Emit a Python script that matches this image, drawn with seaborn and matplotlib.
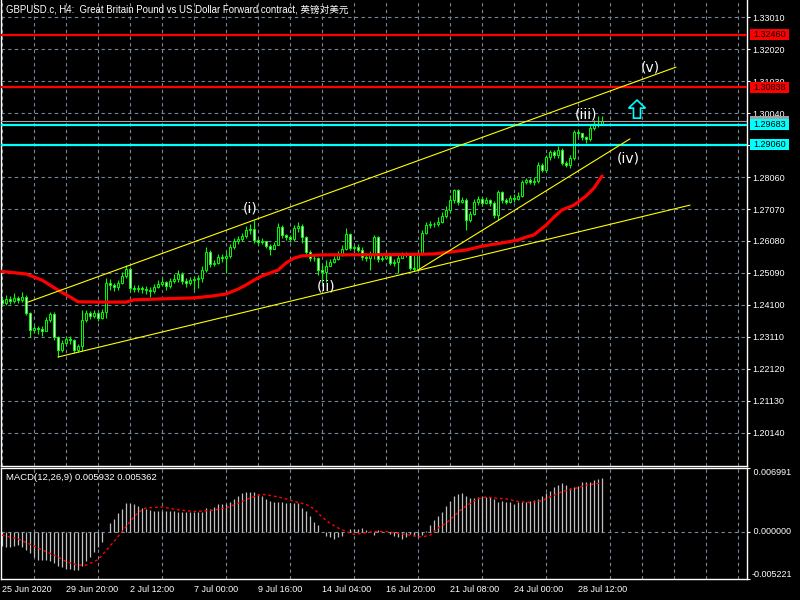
import numpy as np
import pandas as pd
import seaborn as sns
import matplotlib.pyplot as plt
from matplotlib.patches import Rectangle
from matplotlib.transforms import blended_transform_factory

# -----------------------------
# 1. Data (bar 0 = 25 Jun 2020 00:00)
# -----------------------------
first_open = 1.2426
closes = [
    1.2416, 1.2429, 1.2422, 1.2432, 1.2426, 1.2435, 1.2385, 1.2333, 1.2339, 1.2336,
    1.2330, 1.2364, 1.2382, 1.2311, 1.2271, 1.2293, 1.2305, 1.2302, 1.2271, 1.2283,
    1.2364, 1.2385, 1.2376, 1.2385, 1.2370, 1.2388, 1.2478, 1.2472, 1.2466, 1.2478,
    1.2500, 1.2521, 1.2463, 1.2460, 1.2463, 1.2460, 1.2456, 1.2453, 1.2466, 1.2475,
    1.2481, 1.2469, 1.2484, 1.2490, 1.2506, 1.2484, 1.2478, 1.2487, 1.2490, 1.2494,
    1.2518, 1.2574, 1.2537, 1.2540, 1.2559, 1.2555, 1.2562, 1.2589, 1.2608, 1.2614,
    1.2624, 1.2642, 1.2645, 1.2611, 1.2605, 1.2608, 1.2592, 1.2583, 1.2596, 1.2651,
    1.2627, 1.2620, 1.2614, 1.2648, 1.2654, 1.2620, 1.2574, 1.2555, 1.2555, 1.2518,
    1.2512, 1.2531, 1.2543, 1.2552, 1.2568, 1.2583, 1.2630, 1.2586, 1.2589, 1.2580,
    1.2559, 1.2555, 1.2568, 1.2620, 1.2552, 1.2555, 1.2562, 1.2540, 1.2543, 1.2555,
    1.2568, 1.2565, 1.2525, 1.2521, 1.2571, 1.2633, 1.2658, 1.2661, 1.2661, 1.2667,
    1.2685, 1.2704, 1.2735, 1.2766, 1.2729, 1.2735, 1.2673, 1.2692, 1.2729, 1.2738,
    1.2726, 1.2735, 1.2726, 1.2688, 1.2760, 1.2735, 1.2729, 1.2741, 1.2738, 1.2747,
    1.2791, 1.2797, 1.2791, 1.2794, 1.2843, 1.2828, 1.2868, 1.2883, 1.2874, 1.2890,
    1.2849, 1.2843, 1.2865, 1.2945, 1.2942, 1.2930, 1.2924, 1.2957, 1.2969, 1.2970,
    1.2978,
]
highs = [
    1.2435, 1.2441, 1.2438, 1.2447, 1.2438, 1.2450, 1.2441, 1.2388, 1.2348, 1.2345,
    1.2345, 1.2373, 1.2388, 1.2388, 1.2314, 1.2302, 1.2314, 1.2314, 1.2305, 1.2289,
    1.2395, 1.2395, 1.2391, 1.2395, 1.2388, 1.2398, 1.2494, 1.2490, 1.2478, 1.2487,
    1.2512, 1.2534, 1.2528, 1.2472, 1.2472, 1.2469, 1.2469, 1.2466, 1.2475, 1.2487,
    1.2494, 1.2484, 1.2494, 1.2506, 1.2518, 1.2512, 1.2494, 1.2497, 1.2500, 1.2503,
    1.2531, 1.2589, 1.2580, 1.2549, 1.2568, 1.2568, 1.2574, 1.2599, 1.2617, 1.2624,
    1.2633, 1.2654, 1.2661, 1.2673, 1.2617, 1.2617, 1.2608, 1.2599, 1.2605, 1.2664,
    1.2658, 1.2630, 1.2627, 1.2658, 1.2667, 1.2661, 1.2624, 1.2580, 1.2565, 1.2559,
    1.2537, 1.2549, 1.2552, 1.2562, 1.2577, 1.2596, 1.2648, 1.2633, 1.2596, 1.2599,
    1.2589, 1.2565, 1.2577, 1.2627, 1.2624, 1.2565, 1.2568, 1.2565, 1.2552, 1.2565,
    1.2574, 1.2574, 1.2571, 1.2568, 1.2577, 1.2642, 1.2667, 1.2670, 1.2667, 1.2682,
    1.2698, 1.2716, 1.2750, 1.2769, 1.2769, 1.2744, 1.2741, 1.2701, 1.2738, 1.2747,
    1.2744, 1.2744, 1.2738, 1.2732, 1.2766, 1.2763, 1.2741, 1.2750, 1.2753, 1.2760,
    1.2797, 1.2803, 1.2803, 1.2806, 1.2852, 1.2849, 1.2874, 1.2890, 1.2890, 1.2902,
    1.2896, 1.2856, 1.2874, 1.2951, 1.2954, 1.2942, 1.2933, 1.2967, 1.2982, 1.2995,
    1.2995,
]
lows = [
    1.2407, 1.2410, 1.2413, 1.2416, 1.2416, 1.2419, 1.2379, 1.2311, 1.2323, 1.2320,
    1.2314, 1.2330, 1.2357, 1.2302, 1.2249, 1.2265, 1.2283, 1.2289, 1.2262, 1.2265,
    1.2268, 1.2357, 1.2367, 1.2370, 1.2361, 1.2367, 1.2370, 1.2456, 1.2453, 1.2456,
    1.2475, 1.2494, 1.2450, 1.2450, 1.2450, 1.2447, 1.2444, 1.2435, 1.2447, 1.2463,
    1.2469, 1.2456, 1.2463, 1.2478, 1.2481, 1.2475, 1.2466, 1.2472, 1.2456, 1.2463,
    1.2481, 1.2512, 1.2528, 1.2531, 1.2537, 1.2543, 1.2509, 1.2555, 1.2583, 1.2599,
    1.2608, 1.2617, 1.2630, 1.2602, 1.2596, 1.2599, 1.2586, 1.2565, 1.2583, 1.2596,
    1.2617, 1.2611, 1.2605, 1.2608, 1.2636, 1.2602, 1.2565, 1.2546, 1.2546, 1.2503,
    1.2478, 1.2481, 1.2531, 1.2540, 1.2549, 1.2562, 1.2580, 1.2580, 1.2580, 1.2574,
    1.2549, 1.2546, 1.2518, 1.2552, 1.2543, 1.2546, 1.2552, 1.2534, 1.2531, 1.2509,
    1.2555, 1.2559, 1.2518, 1.2515, 1.2518, 1.2565, 1.2630, 1.2648, 1.2651, 1.2654,
    1.2664, 1.2679, 1.2695, 1.2726, 1.2719, 1.2726, 1.2642, 1.2667, 1.2688, 1.2719,
    1.2716, 1.2723, 1.2716, 1.2679, 1.2673, 1.2726, 1.2723, 1.2726, 1.2729, 1.2735,
    1.2744, 1.2784, 1.2784, 1.2781, 1.2788, 1.2822, 1.2822, 1.2859, 1.2865, 1.2865,
    1.2843, 1.2837, 1.2834, 1.2859, 1.2930, 1.2921, 1.2911, 1.2917, 1.2951, 1.2961,
    1.2967,
]

# red moving average (bar index -> price)
ma_idx = [-1, 6, 10, 14, 17, 19, 25, 31, 33, 40, 48, 52, 56, 59, 61, 63, 65, 67, 69,
          71, 73, 75, 80, 100, 108, 112, 116, 120, 125, 129, 131, 133, 136, 138, 140,
          143, 146, 148, 150]
ma_vals = [1.2515, 1.2506, 1.2487, 1.2456, 1.2435, 1.2420, 1.2419, 1.2419, 1.2426,
           1.2429, 1.2432, 1.2437, 1.2444, 1.2459, 1.2472, 1.2487, 1.2500, 1.2509,
           1.2518, 1.2540, 1.2555, 1.2562, 1.2565, 1.2566, 1.2568, 1.2574, 1.2580,
           1.2592, 1.2602, 1.2611, 1.2620, 1.2627, 1.2657, 1.2682, 1.2704, 1.2719,
           1.2747, 1.2772, 1.2809]

# MACD(12,26,9) main (histogram) and signal
macd_hist = [
    -0.0016, -0.0017, -0.0017, -0.0016, -0.0015, -0.0017, -0.0020, -0.0024, -0.0028, -0.0031,
    -0.0031, -0.0031, -0.0032, -0.0035, -0.0038, -0.0039, -0.0041, -0.0041, -0.0042, -0.0042,
    -0.0038, -0.0032, -0.0028, -0.0022, -0.0017, -0.0011, -0.0001, 0.0009, 0.0014, 0.0020,
    0.0025, 0.0031, 0.0031, 0.0030, 0.0028, 0.0026, 0.0025, 0.0024, 0.0023, 0.0023,
    0.0023, 0.0023, 0.0023, 0.0023, 0.0022, 0.0022, 0.0021, 0.0021, 0.0021, 0.0021,
    0.0021, 0.0026, 0.0025, 0.0027, 0.0030, 0.0030, 0.0030, 0.0032, 0.0036, 0.0039,
    0.0042, 0.0044, 0.0044, 0.0044, 0.0041, 0.0039, 0.0036, 0.0034, 0.0032, 0.0032,
    0.0033, 0.0031, 0.0031, 0.0031, 0.0031, 0.0026, 0.0023, 0.0017, 0.0011, 0.0007,
    0.0000, -0.0005, -0.0006, -0.0008, -0.0006, -0.0005, 0.0000, 0.0003, 0.0003, 0.0003,
    0.0004, 0.0002, 0.0000, -0.0004, 0.0002, -0.0001, -0.0001, -0.0003, -0.0005, -0.0006,
    -0.0008, -0.0006, -0.0003, -0.0005, -0.0006, -0.0004, 0.0001, 0.0007, 0.0013, 0.0017,
    0.0021, 0.0028, 0.0034, 0.0039, 0.0041, 0.0042, 0.0039, 0.0037, 0.0037, 0.0038,
    0.0038, 0.0038, 0.0038, 0.0036, 0.0033, 0.0034, 0.0033, 0.0032, 0.0030, 0.0032,
    0.0033, 0.0033, 0.0034, 0.0035, 0.0036, 0.0039, 0.0042, 0.0045, 0.0049, 0.0051,
    0.0053, 0.0051, 0.0048, 0.0049, 0.0050, 0.0054, 0.0055, 0.0055, 0.0057, 0.0058,
    0.005932,
]
sig_idx = [0, 4, 7, 10, 14, 16, 19, 21, 23, 24, 26, 28, 30, 32, 34, 36, 40, 44, 48, 52,
           56, 59, 62, 65, 68, 71, 74, 76, 78, 80, 82, 84, 86, 88, 90, 93, 96, 99, 102,
           105, 107, 109, 111, 113, 115, 117, 119, 121, 123, 126, 129, 132, 135, 137,
           140, 143, 146, 150]
sig_vals = [-0.0004, -0.0008, -0.0014, -0.0020, -0.0028, -0.0033, -0.0037, -0.0037,
            -0.0033, -0.0031, -0.0021, -0.0011, 0.0000, 0.0011, 0.0021, 0.0026, 0.0027,
            0.0024, 0.0022, 0.0023, 0.0026, 0.0031, 0.0037, 0.0041, 0.0039, 0.0036,
            0.0032, 0.0030, 0.0025, 0.0016, 0.0009, 0.0004, 0.0000, -0.0003, -0.0002,
            0.0000, 0.0000, -0.0002, -0.0004, -0.0006, -0.0004, 0.0004, 0.0009, 0.0017,
            0.0025, 0.0031, 0.0036, 0.0038, 0.0037, 0.0036, 0.0033, 0.0032, 0.0034,
            0.0038, 0.0044, 0.0047, 0.0051, 0.005362]

price_ticks = [1.33010, 1.32020, 1.31030, 1.30040, 1.29050, 1.28060, 1.27070,
               1.26080, 1.25090, 1.24100, 1.23110, 1.22120, 1.21130, 1.20140]
macd_top, macd_bottom = 0.006991, -0.005221
date_idx = [0, 16, 32, 48, 64, 80, 96, 112, 128, 144]
date_labels = ["25 Jun 2020", "29 Jun 20:00", "2 Jul 12:00", "7 Jul 00:00", "9 Jul 16:00",
               "14 Jul 04:00", "16 Jul 20:00", "21 Jul 08:00", "24 Jul 00:00", "28 Jul 12:00"]

# horizontal levels
red_levels = [1.32460, 1.30838]
cyan_levels = [1.29683, 1.29060]
bid_price = 1.2978

# trend lines (bar index, price)
upper_x, upper_y = [6.5, 168.5], [1.2419, 1.3146]
lower_x, lower_y = [14, 172], [1.2249, 1.2719]
inner_x, inner_y = [104, 157], [1.2518, 1.2924]

# elliott wave labels
wave_text = ["(i)", "(ii)", "(iii)", "(iv)", "(v)"]
wave_x = [62, 81, 146, 156.5, 162]
wave_y = [1.2710, 1.2466, 1.2998, 1.2862, 1.3146]

# up arrow
arrow_i, arrow_base, arrow_len = 158.75, 1.2988, 0.0056

# -----------------------------
# 2. Style
# -----------------------------
sns.set_theme(style="dark", rc={"axes.facecolor": "black", "figure.facecolor": "black"})
plt.rcParams["font.family"] = ["Liberation Sans", "Noto Sans CJK SC", "DejaVu Sans"]

GRID = "#778899"
LIME = "#00FF00"
FS = 6.5

fig = plt.figure(figsize=(8, 6), dpi=100, facecolor="black")
ax = fig.add_axes([1 / 800, 1 - 466 / 600, 746 / 800, 466 / 600])
ax2 = fig.add_axes([1 / 800, 1 - 579 / 600, 746 / 800, 111 / 600])

for a in (ax, ax2):
    a.set_facecolor("black")
    a.set_xlim(-0.25, 186.25)
    for s in a.spines.values():
        s.set_color("white")
        s.set_linewidth(1)
    a.set_xticks(np.arange(0, 187, 8), minor=True)
    a.grid(True, which="minor", axis="x", color=GRID, linestyle=(0, (3, 3)), linewidth=0.8)
ax.spines["top"].set_visible(False)

# -----------------------------
# 3. Main price panel
# -----------------------------
ax.set_ylim(1.19119, 1.33536)
ax.set_xticks([])
ax.tick_params(axis="x", which="both", length=0, labelbottom=False)
ax.yaxis.tick_right()
ax.set_yticks(price_ticks)
ax.set_yticklabels([f"{p:.5f}" for p in price_ticks])
ax.tick_params(axis="y", colors="white", labelsize=FS, length=2.5, width=0.8, pad=1.5)
ax.grid(True, which="major", axis="y", color=GRID, linestyle=(0, (3, 3)), linewidth=0.8)

n = len(closes)
opens = [first_open] + closes[:-1]
df = pd.DataFrame({"i": np.arange(n), "open": opens, "close": closes,
                   "high": highs, "low": lows})
df["bull"] = df["close"] >= df["open"]
ax.vlines(df["i"], df["low"], df["high"], color=LIME, lw=0.8, zorder=2)
body_bottom = df[["open", "close"]].min(axis=1)
body_h = (df["close"] - df["open"]).abs()
ax.bar(df["i"], body_h, bottom=body_bottom, width=0.6,
       color=np.where(df["bull"], "black", "white"), edgecolor=LIME,
       linewidth=0.7, zorder=2.5)

sns.lineplot(x=ma_idx, y=ma_vals, ax=ax, color="#FF0000", linewidth=2.3, zorder=3)

for lv in red_levels:
    ax.axhline(lv, color="#FF0000", lw=1.6, zorder=4)
ax.axhline(bid_price, color="#A0A0A0", lw=0.8, zorder=4)
for lv in cyan_levels:
    ax.axhline(lv, color="#00FFFF", lw=1.6, zorder=4)

for xs, ys in [(upper_x, upper_y), (lower_x, lower_y), (inner_x, inner_y)]:
    ax.plot(xs, ys, color="#FFFF00", lw=0.8, zorder=4)

for t, x, y in zip(wave_text, wave_x, wave_y):
    ax.text(x, y, t, color="white", fontsize=10, family="DejaVu Sans",
            ha="center", va="center", zorder=5)

ax.arrow(arrow_i, arrow_base, 0, arrow_len, width=1.75, head_width=4.2,
         head_length=0.0025, length_includes_head=True, fc="black",
         ec="#00FFFF", lw=1.2, zorder=5)

# price labels on the right axis
trans = blended_transform_factory(ax.transAxes, ax.transData)
box_h = 0.0034
box_labels = [(bid_price, "#A0A0A0", ""), (red_levels[0], "#FF0000", "1.32460"),
              (red_levels[1], "#FF0000", "1.30838"), (cyan_levels[0], "#00FFFF", "1.29683"),
              (cyan_levels[1], "#00FFFF", "1.29060")]
for lv, col, txt in box_labels:
    ax.add_patch(Rectangle((1.0035, lv - box_h / 2), 0.0525, box_h, transform=trans,
                           facecolor=col, edgecolor="none", clip_on=False, zorder=6))
    if txt:
        ax.text(1.0035 + 0.0525 / 2, lv, txt, transform=trans, color="black", fontsize=FS,
                ha="center", va="center", clip_on=False, zorder=7)

ax.text(5 / 746, 1 - 9 / 466,
        "GBPUSD.c, H4:  Great Britain Pound vs US Dollar Forward contract, 英镑对美元",
        transform=ax.transAxes, color="white", fontsize=6.9, ha="left", va="center")

# -----------------------------
# 4. MACD panel
# -----------------------------
ax2.set_ylim(macd_bottom, macd_top)
ax2.axhline(0, color=GRID, linestyle=(0, (3, 3)), linewidth=0.8, zorder=1)
ax2.vlines(np.arange(n), 0, macd_hist, color="#C0C0C0", lw=0.9, zorder=2)
sns.lineplot(x=sig_idx, y=sig_vals, ax=ax2, color="#FF0000", linewidth=1.0,
             linestyle=(0, (2, 2)), zorder=3)

ax2.set_yticks([macd_top, 0.0, macd_bottom])
ax2.yaxis.tick_right()
ax2.set_yticklabels(["", "", ""])
ax2.tick_params(axis="y", colors="white", length=2.5, width=0.8)
trans2 = blended_transform_factory(ax2.transAxes, ax2.transData)
ax2.text(1.006, macd_top, " 0.006991", transform=trans2, color="white",
         fontsize=FS, ha="left", va="top", clip_on=False)
ax2.text(1.006, 0.0, " 0.000000", transform=trans2, color="white",
         fontsize=FS, ha="left", va="center", clip_on=False)
ax2.text(1.006, macd_bottom, "-0.005221", transform=trans2, color="white",
         fontsize=FS, ha="left", va="bottom", clip_on=False)
ax2.text(5 / 746, 1 - 9 / 111, "MACD(12,26,9) 0.005932 0.005362", transform=ax2.transAxes,
         color="white", fontsize=6.8, ha="left", va="center")

ax2.set_xticks(date_idx)
ax2.set_xticklabels(date_labels, ha="left")
ax2.tick_params(axis="x", which="major", colors="white", labelsize=FS, length=4,
                width=0.8, pad=0.5, direction="out")
ax2.tick_params(axis="x", which="minor", length=0)
for a in (ax, ax2):
    a.set_xlabel("")
    a.set_ylabel("")

fig.savefig("out.png", dpi=100, facecolor="black")
